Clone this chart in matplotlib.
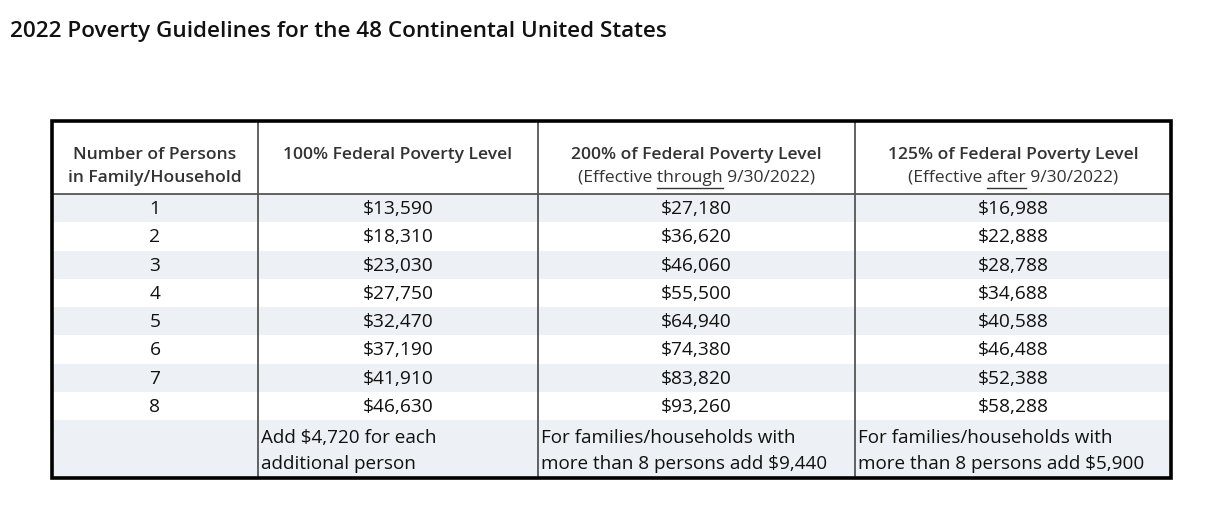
import matplotlib.pyplot as plt
from matplotlib.patches import Rectangle

# table data
persons = ["1", "2", "3", "4", "5", "6", "7", "8"]
fpl_100 = ["$13,590", "$18,310", "$23,030", "$27,750", "$32,470", "$37,190", "$41,910", "$46,630"]
fpl_200 = ["$27,180", "$36,620", "$46,060", "$55,500", "$64,940", "$74,380", "$83,820", "$93,260"]
fpl_125 = ["$16,988", "$22,888", "$28,788", "$34,688", "$40,588", "$46,488", "$52,388", "$58,288"]
extra = ["", "Add $4,720 for each\nadditional person",
         "For families/households with\nmore than 8 persons add $9,440",
         "For families/households with\nmore than 8 persons add $5,900"]
title = "2022 Poverty Guidelines for the 48 Continental United States"

plt.rcParams['font.family'] = ['Open Sans', 'DejaVu Sans']

fig = plt.figure(figsize=(12.15, 5.28), dpi=100)
ax = fig.add_axes([0, 0, 1, 1])
ax.set_xlim(0, 1215)
ax.set_ylim(528, 0)
ax.axis('off')

# layout in pixels
col_edges = [52, 258, 538, 855, 1171]
top, head_bot = 121, 194
row_h = 28.25
last_bot = 478
stripe = "#edf0f4"

# row stripes
for i in range(len(persons) + 1):
    y0 = head_bot + i * row_h
    h = row_h if i < len(persons) else last_bot - y0
    if i % 2 == 0:
        ax.add_patch(Rectangle((col_edges[0], y0), col_edges[-1] - col_edges[0], h,
                               facecolor=stripe, edgecolor='none', zorder=1))

# title
ax.text(10, 31, title, fontsize=16.2, fontweight='semibold', color='#111111',
        va='center', ha='left')

# header
centers = [(col_edges[i] + col_edges[i + 1]) / 2 for i in range(4)]
hfs = 12.6
hdr_kw = dict(fontsize=hfs, fontweight='semibold', color='#333333', ha='center', va='center')
ax.text(centers[0], 155, "Number of Persons", **hdr_kw)
ax.text(centers[0], 178, "in Family/Household", **hdr_kw)
ax.text(centers[1], 155, "100% Federal Poverty Level", **hdr_kw)
ax.text(centers[2], 155, "200% of Federal Poverty Level", **hdr_kw)
ax.text(centers[3], 155, "125% of Federal Poverty Level", **hdr_kw)

sub_kw = dict(fontsize=hfs, color='#333333', ha='center', va='center')
subs = [(centers[2], "(Effective ", "through", " 9/30/2022)"),
        (centers[3], "(Effective ", "after", " 9/30/2022)")]
fig.canvas.draw()
rend = fig.canvas.get_renderer()
inv = ax.transData.inverted()
for cx, pre, word, post in subs:
    t = ax.text(cx, 178, pre + word + post, **sub_kw)
    bb = t.get_window_extent(rend)
    tp = ax.text(0, 0, pre, fontsize=hfs)
    tw = ax.text(0, 0, pre + word, fontsize=hfs)
    w_pre = tp.get_window_extent(rend).width
    w_word = tw.get_window_extent(rend).width
    tp.remove()
    tw.remove()
    x0 = inv.transform((bb.x0 + w_pre, 0))[0]
    x1 = inv.transform((bb.x0 + w_word, 0))[0]
    ax.plot([x0, x1], [188, 188], color='#333333', lw=1.0, zorder=3)

# body rows
body_kw = dict(fontsize=13.8, color='#111111', ha='center', va='center')
for i in range(len(persons)):
    yc = head_bot + (i + 0.5) * row_h + 1
    for j, col in enumerate([persons, fpl_100, fpl_200, fpl_125]):
        ax.text(centers[j], yc, col[i], **body_kw)

for j in range(1, 4):
    for k, line in enumerate(extra[j].split("\n")):
        ax.text(col_edges[j] + 3, 438 + 26 * k, line, fontsize=13.6,
                color='#111111', ha='left', va='center')

# grid lines
for x in col_edges[1:-1]:
    ax.plot([x, x], [top, last_bot], color='#555555', lw=1.3, zorder=3)
ax.plot([col_edges[0], col_edges[-1]], [head_bot, head_bot], color='#555555', lw=1.3, zorder=3)
ax.add_patch(Rectangle((col_edges[0], top), col_edges[-1] - col_edges[0], last_bot - top,
                       facecolor='none', edgecolor='black', lw=2.6, zorder=4))

fig.savefig("out.png", dpi=100)
